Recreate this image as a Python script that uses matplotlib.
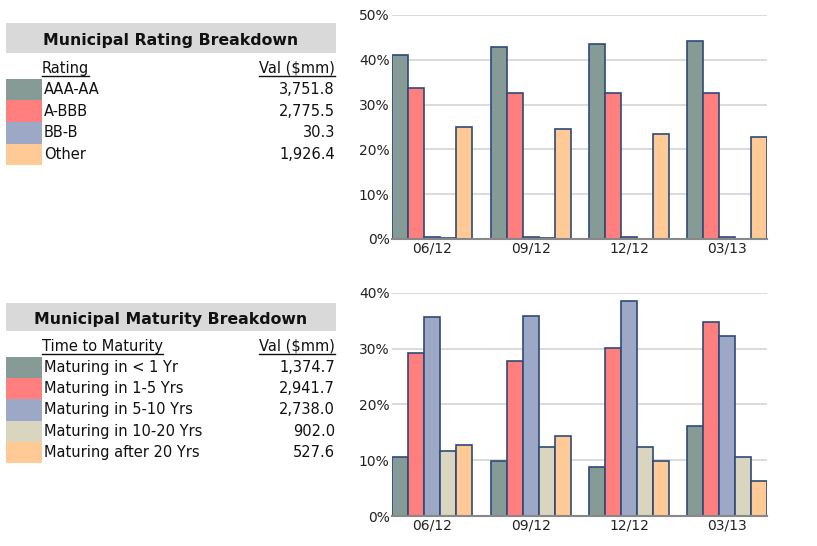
import numpy as np
import matplotlib
matplotlib.use('Agg')
import matplotlib.pyplot as plt
from matplotlib.lines import Line2D
from matplotlib.patches import Rectangle
from matplotlib.ticker import FuncFormatter

W, H = 817, 546

periods = ['06/12', '09/12', '12/12', '03/13']

rating_labels = ['AAA-AA', 'A-BBB', 'BB-B', 'Other']
rating_vals = ['3,751.8', '2,775.5', '30.3', '1,926.4']
rating_aaa = [41.1, 42.8, 43.6, 44.2]
rating_abbb = [33.6, 32.5, 32.5, 32.7]
rating_bbb = [0.4, 0.4, 0.4, 0.36]
rating_nr = [0.2, 0.15, 0.1, 0.0]
rating_other = [24.9, 24.5, 23.5, 22.7]

mat_labels = ['Maturing in < 1 Yr', 'Maturing in 1-5 Yrs', 'Maturing in 5-10 Yrs',
              'Maturing in 10-20 Yrs', 'Maturing after 20 Yrs']
mat_vals = ['1,374.7', '2,941.7', '2,738.0', '902.0', '527.6']
mat_lt1 = [10.5, 9.85, 8.8, 16.2]
mat_1_5 = [29.2, 27.8, 30.1, 34.7]
mat_5_10 = [35.6, 35.9, 38.6, 32.3]
mat_10_20 = [11.7, 12.4, 12.4, 10.6]
mat_20p = [12.8, 14.3, 9.9, 6.2]

GREEN = '#869a96'
PINK = '#ff7f7f'
BLUE = '#9da8c7'
BEIGE = '#dad5bf'
PEACH = '#ffca95'
EDGE = '#2e4a78'

plt.rcParams['font.family'] = 'DejaVu Sans'

fig = plt.figure(figsize=(W / 100, H / 100), dpi=100)


def fx(x):
    return x / W


def fy(y):
    return 1 - y / H


def add_axes_px(left, top, right, bottom):
    return fig.add_axes([fx(left), fy(bottom), (right - left) / W, (bottom - top) / H])


def bar_chart(ax, series, colors, ymax, step):
    n = len(series)
    bw = 80 / 98.3 / n
    x = np.arange(len(periods))
    for i, (vals, c) in enumerate(zip(series, colors)):
        offs = (i - (n - 1) / 2) * bw
        ax.bar(x + offs, vals, width=bw, color=c, edgecolor=EDGE, linewidth=1.2, zorder=3)
    half = 80 / 98.3 / 2
    ax.set_xlim(-half, len(periods) - 1 + half)
    ax.set_ylim(0, ymax)
    ax.set_yticks(np.arange(0, ymax + 0.01, step))
    ax.yaxis.set_major_formatter(FuncFormatter(lambda v, p: '{:.0f}%'.format(v)))
    ax.set_xticks(x)
    ax.set_xticklabels(periods)
    ax.tick_params(axis='both', length=0, labelsize=10, colors='#222222')
    ax.tick_params(axis='y', pad=2)
    ax.tick_params(axis='x', pad=2)
    for s in ['top', 'right', 'left']:
        ax.spines[s].set_visible(False)
    ax.spines['bottom'].set_color('#888888')
    ax.spines['bottom'].set_linewidth(1.5)
    ax.spines['bottom'].set_zorder(4)
    ax.grid(axis='y', color='#dadada', linewidth=1.4, zorder=0)
    ax.set_axisbelow(True)
    ax.patch.set_visible(False)


ax1 = add_axes_px(392.3, 15, 767.3, 239)
bar_chart(ax1, [rating_aaa, rating_abbb, rating_bbb, rating_nr, rating_other],
          [GREEN, PINK, BLUE, BEIGE, PEACH], 50, 10)

ax2 = add_axes_px(392.3, 292.7, 767.3, 516)
bar_chart(ax2, [mat_lt1, mat_1_5, mat_5_10, mat_10_20, mat_20p],
          [GREEN, PINK, BLUE, BEIGE, PEACH], 40, 10)

renderer = fig.canvas.get_renderer()


def underline(t):
    bb = t.get_window_extent(renderer)
    y = bb.y0 - 0.5
    fig.add_artist(Line2D([bb.x0 / W, bb.x1 / W], [y / H, y / H],
                          color='#111111', linewidth=1, transform=fig.transFigure))


def table(title, head, labels, vals, colors, box_top, box_bot, title_y, head_y, row_top, row_h):
    fig.add_artist(Rectangle((fx(6), fy(box_bot)), 330 / W, (box_bot - box_top) / H,
                             facecolor='#d9d9d9', edgecolor='none', transform=fig.transFigure))
    fig.text(fx(171), fy(title_y), title, ha='center', va='center',
             fontsize=11.3, fontweight='bold', color='#111111')
    t1 = fig.text(fx(42), fy(head_y), head, ha='left', va='center', fontsize=10.5, color='#111111')
    t2 = fig.text(fx(335), fy(head_y), 'Val ($mm)', ha='right', va='center', fontsize=10.5,
                  color='#111111')
    underline(t1)
    underline(t2)
    for i, (lab, v, c) in enumerate(zip(labels, vals, colors)):
        top = row_top + i * row_h
        fig.add_artist(Rectangle((fx(6), fy(top + row_h)), 36 / W, row_h / H,
                                 facecolor=c, edgecolor='none', transform=fig.transFigure))
        yc = top + row_h / 2
        fig.text(fx(44), fy(yc), lab, ha='left', va='center', fontsize=10.5, color='#111111')
        fig.text(fx(335), fy(yc), v, ha='right', va='center', fontsize=10.5, color='#111111')


table('Municipal Rating Breakdown', 'Rating', rating_labels, rating_vals,
      [GREEN, PINK, BLUE, PEACH], 23, 53, 41, 68, 78.7, 21.6)
table('Municipal Maturity Breakdown', 'Time to Maturity', mat_labels, mat_vals,
      [GREEN, PINK, BLUE, BEIGE, PEACH], 303, 331, 319.5, 346, 356.7, 21.3)

fig.savefig('out.png', dpi=100)
